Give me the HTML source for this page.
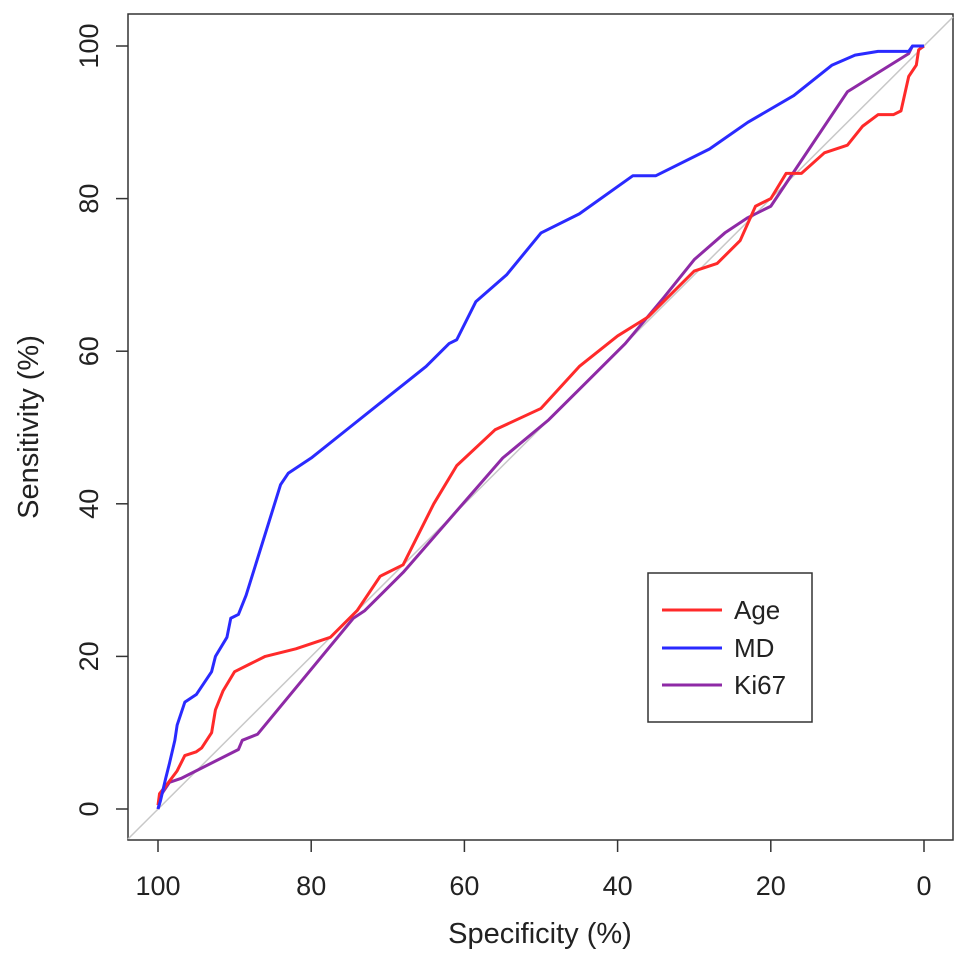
<!DOCTYPE html>
<html><head><meta charset="utf-8"><style>
body{margin:0;background:#fff;}
svg{display:block;font-family:"Liberation Sans",Arial,sans-serif;}
</style></head><body>
<svg id="chart" width="969" height="962" viewBox="0 0 969 962">
<rect x="128" y="14" width="825" height="826" fill="none" stroke="#333" stroke-width="1.5"/>
<g id="axes"></g>
<g id="series"></g>
<text x="540" y="943" font-size="29" text-anchor="middle" fill="#222">Specificity (%)</text>
<text x="0" y="0" font-size="29" text-anchor="middle" fill="#222" transform="translate(38,427) rotate(-90)">Sensitivity (%)</text>
<g>
<rect x="648" y="573" width="164" height="149" fill="#fff" stroke="#333" stroke-width="1.5"/>
<line x1="662" y1="610" x2="722" y2="610" stroke="#ff2a2a" stroke-width="3"/>
<text x="734" y="619" font-size="26" fill="#222">Age</text>
<line x1="662" y1="648" x2="722" y2="648" stroke="#2a2aff" stroke-width="3"/>
<text x="734" y="657" font-size="26" fill="#222">MD</text>
<line x1="662" y1="685" x2="722" y2="685" stroke="#8e2aa6" stroke-width="3"/>
<text x="734" y="694" font-size="26" fill="#222">Ki67</text>
</g>
</svg>
<script>
const xTicks=[100,80,60,40,20,0];
const yTicks=[0,20,40,60,80,100];
const mdSpec=[100,99.7,99,98.5,97.8,97.5,96.5,95,93,92.5,91,90.5,89.5,88.5,84,83,80,75,70,65,62,61,58.5,54.5,50,45,38,35,28,23,17,12,9,6,2,1.5,0];
const mdSens=[0,1,4,6,9,11,14,15,18,20,22.5,25,25.5,28,42.5,44,46,50,54,58,61,61.5,66.5,70,75.5,78,83,83,86.5,90,93.5,97.5,98.8,99.3,99.3,100,100];
const ageSpec=[100,99.8,99,97.5,96.5,95,94.3,93,92.5,91.5,90,88,86,82,77.5,74,71,68,64,61,56,50,45,40,36,30,27,24,22,20,18,16,13,10,8,6,4,3,2,1,0.7,0];
const ageSens=[0.5,2,3,5,7,7.5,8,10,13,15.5,18,19,20,21,22.5,26,30.5,32,40,45,49.7,52.5,58,62,64.5,70.5,71.5,74.5,79,80,83.3,83.3,86,87,89.5,91,91,91.5,96,97.5,99.5,100];
const kiSpec=[100,99.5,98.5,97,89.5,89,87,74.5,73,68,55,49,39,34,30,26,23,20,10,2,1.5,0];
const kiSens=[0,2,3.5,4,7.8,9,9.8,25,26,31,46,51,61,67,72,75.5,77.5,79,94,99,100,100];
const NS='http://www.w3.org/2000/svg';
const sx=v=>924-(v)*7.66;
const sy=v=>809-v*7.63;
const axes=document.getElementById('axes'), series=document.getElementById('series');
function mk(t,a,p){const e=document.createElementNS(NS,t);for(const k in a)e.setAttribute(k,a[k]);p.appendChild(e);return e;}
// diagonal
const d=mk('line',{x1:sx(100)-30,y1:sy(0)+30,x2:sx(0)+29,y2:sy(100)-29,stroke:'#c8c8c8','stroke-width':1.5},series);


xTicks.forEach(v=>{
 const l=mk('line',{x1:sx(v),x2:sx(v),y1:840,y2:852,stroke:'#333','stroke-width':1.5},axes);
 
 
 const t=mk('text',{x:sx(v),y:895,'font-size':27,'text-anchor':'middle',fill:'#222'},axes);
 t.textContent=v;
 
 
});
yTicks.forEach(v=>{
 const l=mk('line',{x1:116,x2:128,y1:sy(v),y2:sy(v),stroke:'#333','stroke-width':1.5},axes);
 
 
 const t=mk('text',{x:0,y:0,'font-size':27,'text-anchor':'middle',fill:'#222',transform:`translate(98,${sy(v)}) rotate(-90)`},axes);
 t.textContent=v;
 
 
});
function line(xs,ys,c,name){
 const p=mk('polyline',{points:xs.map((x,i)=>sx(x)+','+sy(ys[i])).join(' '),fill:'none',stroke:c,'stroke-width':3,'stroke-linejoin':'round'},series);
 
 
}
line(kiSpec,kiSens,'#8e2aa6','ki67-curve');
line(ageSpec,ageSens,'#ff2a2a','age-curve');
line(mdSpec,mdSens,'#2a2aff','md-curve');
</script>
</body></html>
